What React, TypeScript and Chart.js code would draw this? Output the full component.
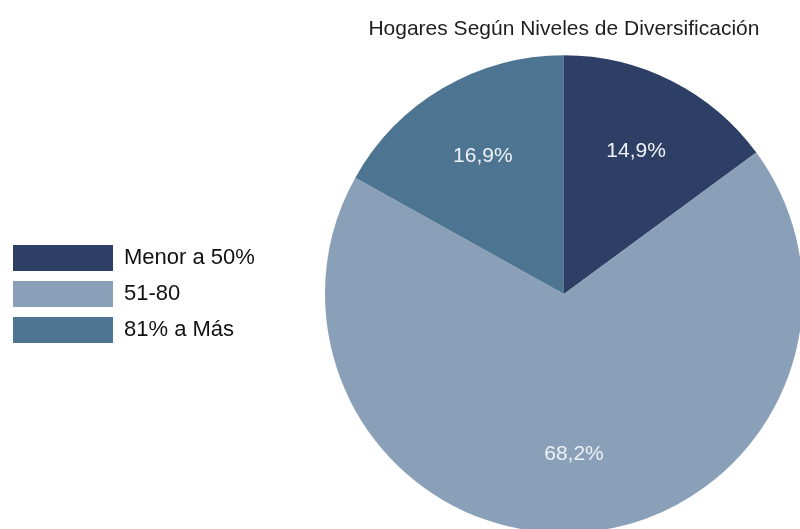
import React, { useEffect, useRef } from "react";
import { Chart, registerables } from "chart.js";

Chart.register(...registerables);

const chartTitle = "Hogares Según Niveles de Diversificación";
const categories = ["Menor a 50%", "51-80", "81% a Más"];
const shares = [14.9, 68.2, 16.9];
const shareLabels = ["14,9%", "68,2%", "16,9%"];
const sliceColors = ["#2e3f66", "#8a9fb8", "#4d7592"];

const FONT = "'Liberation Sans', Arial, sans-serif";

const sliceLabelPlugin = {
  id: "sliceLabels",
  afterDatasetsDraw(chart: any) {
    const ctx = chart.ctx;
    const meta = chart.getDatasetMeta(0);
    ctx.save();
    ctx.font = `21px ${FONT}`;
    ctx.fillStyle = "#eef2f7";
    ctx.textAlign = "center";
    ctx.textBaseline = "middle";
    meta.data.forEach((arc: any, i: number) => {
      const p = arc.getProps(["x", "y", "startAngle", "endAngle", "outerRadius"], true);
      const mid = (p.startAngle + p.endAngle) / 2;
      const r = p.outerRadius * 0.67;
      ctx.fillText(shareLabels[i], p.x + Math.cos(mid) * r, p.y + Math.sin(mid) * r);
    });
    ctx.restore();
  },
};

export default function App() {
  const ref = useRef<HTMLCanvasElement | null>(null);
  useEffect(() => {
    if (!ref.current) return;
    const chart = new Chart(ref.current, {
      type: "pie",
      data: {
        labels: categories,
        datasets: [
          {
            data: shares,
            backgroundColor: sliceColors,
            borderWidth: 0,
          },
        ],
      },
      options: {
        responsive: false,
        animation: false,
        layout: { padding: { left: 3, right: 0, top: 0, bottom: 0 } },
        plugins: {
          title: {
            display: true,
            text: chartTitle,
            fullSize: false,
            color: "#1e1e1e",
            font: { family: FONT, size: 21, weight: "normal" },
            padding: { top: 17, bottom: 13 },
          },
          legend: {
            display: true,
            position: "left",
            fullSize: false,
            labels: {
              boxWidth: 100,
              boxHeight: 26,
              padding: 10,
              color: "#111111",
              font: { family: FONT, size: 22 },
            },
          },
          tooltip: { enabled: false },
        },
      },
      plugins: [sliceLabelPlugin],
    });
    return () => chart.destroy();
  }, []);
  return (
    <div
      style={{
        position: "fixed",
        left: 0,
        top: 0,
        width: 800,
        height: 529,
        overflow: "hidden",
        background: "#ffffff",
      }}
    >
      <canvas ref={ref} width={863} height={533} style={{ display: "block" }} />
    </div>
  );
}
